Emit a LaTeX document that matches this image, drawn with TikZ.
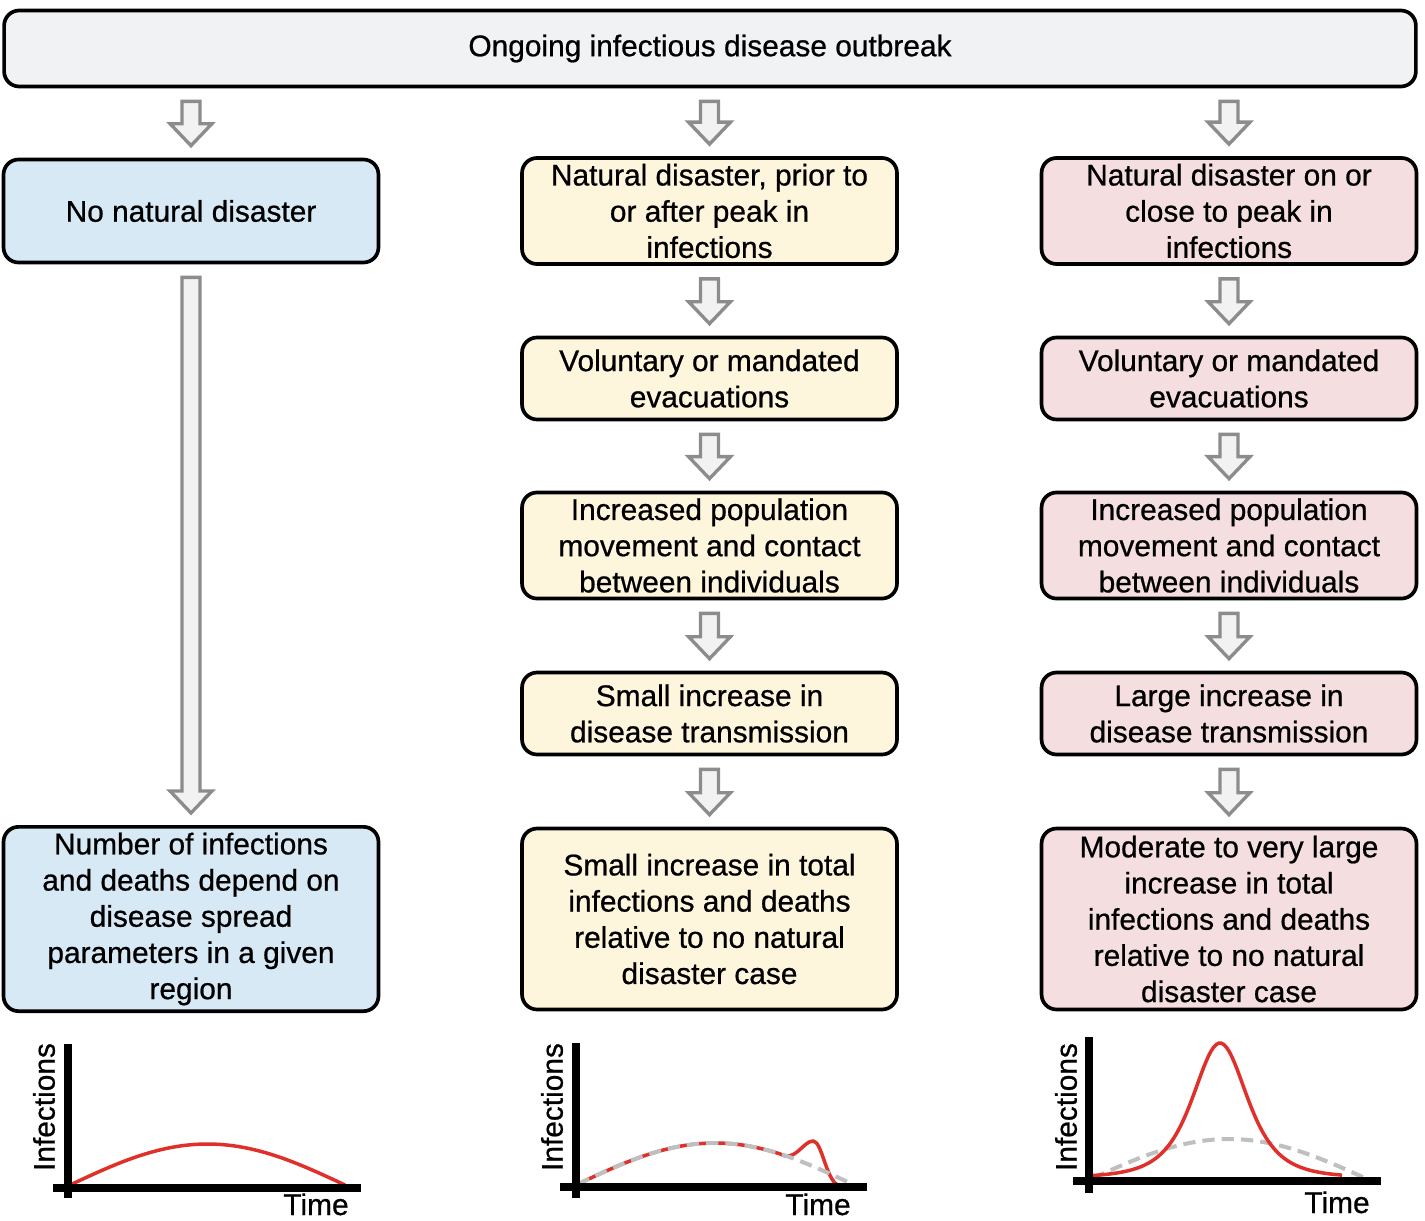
\documentclass[tikz,border=0pt]{standalone}
\usepackage{fontspec}
\setmainfont{Liberation Sans}[UprightFeatures={FakeBold=0.7}]
\usetikzlibrary{calc}
\definecolor{OutbreakGray}{HTML}{F1F2F4}
\definecolor{NoDisasterBlue}{HTML}{D7E9F5}
\definecolor{OffPeakYellow}{HTML}{FEF5DD}
\definecolor{OnPeakPink}{HTML}{F4DEDF}
\definecolor{ArrowGray}{HTML}{8C8C8C}
\definecolor{ArrowFill}{HTML}{F2F2F2}
\definecolor{CurveRed}{HTML}{E0302A}
\definecolor{BaselineGray}{HTML}{BFBFBF}
\tikzstyle{stage} = [draw, line width=2.1pt, rounded corners=0.3cm, align=center, minimum width=7.5cm, text=black, font=\fontsize{17pt}{20.6pt}\selectfont]
\tikzstyle{tall} = [stage, minimum height=2.06cm]
\tikzstyle{short} = [stage, minimum height=1.64cm]
\tikzstyle{result} = [stage, minimum height=3.62cm]
\tikzstyle{flow} = [draw=ArrowGray, fill=ArrowFill, line width=1.9pt]
\tikzstyle{chartaxis} = [line width=4.2pt]
\tikzstyle{curve} = [CurveRed, line width=2pt]
\tikzstyle{baseline} = [BaselineGray, line width=2.3pt, dash pattern=on 7pt off 4pt]
\tikzstyle{label} = [font=\fontsize{17pt}{20.6pt}\selectfont, inner sep=0pt]
% hollow block arrow from box #1 down to box #2
\newcommand{\flowarrow}[2]{%
  \filldraw[flow] let \p1 = ($(#1.south -| #2.north)+(0,13)$), \p2 = ($(#2.north)+(0,-12)$) in
    (\x1-0.18cm,\y1) -- (\x1+0.18cm,\y1) -- (\x1+0.18cm,\y2+0.44cm) -- (\x1+0.42cm,\y2+0.44cm)
    -- (\x1,\y2) -- (\x1-0.42cm,\y2+0.44cm) -- (\x1-0.18cm,\y2+0.44cm) -- cycle;}

\begin{document}
\begin{tikzpicture}[x=0.02cm, y=-0.02cm]
	\useasboundingbox (0,0) rectangle (1425,1220);

	\node[stage, fill=OutbreakGray, minimum width=28.24cm, minimum height=1.52cm] (outbreak) at (710,48.5) {Ongoing infectious disease outbreak};

	% No disaster column
	\node[tall, fill=NoDisasterBlue] (nodis) at (191,211) {No natural disaster};
	\node[result, fill=NoDisasterBlue] (nodisres) at (191,919) {Number of infections\\and deaths depend on\\disease spread\\parameters in a given\\region};

	% Disaster away from the peak
	\node[tall, fill=OffPeakYellow] (offpeak) at (709.5,211) {Natural disaster, prior to\\or after peak in\\infections};
	\node[short, fill=OffPeakYellow] (offevac) at (709.5,378.5) {Voluntary or mandated\\evacuations};
	\node[tall, fill=OffPeakYellow] (offmove) at (709.5,545.5) {Increased population\\movement and contact\\between individuals};
	\node[short, fill=OffPeakYellow] (offtrans) at (709.5,713.5) {Small increase in\\disease transmission};
	\node[result, fill=OffPeakYellow] (offres) at (709.5,919) {Small increase in total\\infections and deaths\\relative to no natural\\disaster case};

	% Disaster at the peak
	\node[tall, fill=OnPeakPink] (onpeak) at (1229,211) {Natural disaster on or\\close to peak in\\infections};
	\node[short, fill=OnPeakPink] (onevac) at (1229,378.5) {Voluntary or mandated\\evacuations};
	\node[tall, fill=OnPeakPink] (onmove) at (1229,545.5) {Increased population\\movement and contact\\between individuals};
	\node[short, fill=OnPeakPink] (ontrans) at (1229,713.5) {Large increase in\\disease transmission};
	\node[result, fill=OnPeakPink] (onres) at (1229,919) {Moderate to very large\\increase in total\\infections and deaths\\relative to no natural\\disaster case};

	% Arrows
	\flowarrow{outbreak}{nodis}
	\flowarrow{outbreak}{offpeak}
	\flowarrow{outbreak}{onpeak}
	\flowarrow{nodis}{nodisres}
	\flowarrow{offpeak}{offevac}
	\flowarrow{offevac}{offmove}
	\flowarrow{offmove}{offtrans}
	\flowarrow{offtrans}{offres}
	\flowarrow{onpeak}{onevac}
	\flowarrow{onevac}{onmove}
	\flowarrow{onmove}{ontrans}
	\flowarrow{ontrans}{onres}

	% Chart: no disaster
	\draw[curve] plot[domain=70:345, samples=60] (\x, {1185-41*sin((\x-70)/275*180)});
	\draw[chartaxis] (68,1044) -- (68,1198);
	\draw[chartaxis] (53,1188) -- (361,1188);
	\node[label, rotate=90] at (44,1107) {Infections};
	\node[label, anchor=base] at (316,1215) {Time};

	% Chart: small second wave
	\draw[curve] plot[domain=578:780, samples=50] (\x, {1184-41*sin((\x-578)/274*180)})
	  .. controls (795,1163) and (803,1141) .. (813,1141)
	  .. controls (822,1141) and (826,1180) .. (838,1185);
	\draw[baseline] plot[domain=578:852, samples=60] (\x, {1184-41*sin((\x-578)/274*180)});
	\draw[chartaxis] (576,1043) -- (576,1198);
	\draw[chartaxis] (560,1187) -- (867,1187);
	\node[label, rotate=90] at (552,1107) {Infections};
	\node[label, anchor=base] at (818,1215) {Time};

	% Chart: large peak
	\draw[baseline] plot[domain=1093:1365, samples=60] (\x, {1178-39*sin((\x-1093)/272*180)});
	\draw[curve] plot[domain=1093:1342, samples=100] (\x, {1178-135/((1+((\x-1220)/50.5)^2)^2)});
	\draw[chartaxis] (1089,1037) -- (1089,1193);
	\draw[chartaxis] (1073,1181) -- (1381,1181);
	\node[label, rotate=90] at (1066,1107) {Infections};
	\node[label, anchor=base] at (1337,1213) {Time};

\end{tikzpicture}
\end{document}
